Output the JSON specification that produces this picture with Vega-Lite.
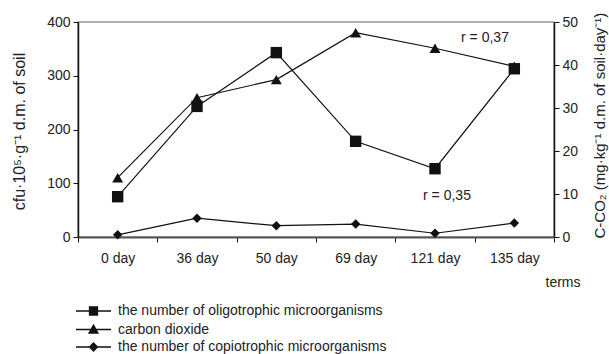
{
  "$schema": "https://vega.github.io/schema/vega-lite/v6.json",
  "width": 476,
  "height": 215,
  "autosize": {"type": "none"},
  "padding": {"left": 78, "top": 22, "right": 55, "bottom": 117},
  "background": "white",
  "config": {
    "font": "Liberation Sans",
    "view": {"stroke": "#9a9a9a", "strokeWidth": 1.5},
    "axis": {
      "labelFont": "Liberation Sans",
      "titleFont": "Liberation Sans",
      "labelFontSize": 14,
      "titleFontSize": 14,
      "labelColor": "#222",
      "titleColor": "#222",
      "titleFontWeight": "normal",
      "domainColor": "#111",
      "domainWidth": 1.5,
      "tickColor": "#111",
      "tickSize": 5,
      "grid": false
    },
    "legend": {
      "labelFont": "Liberation Sans",
      "labelFontSize": 14,
      "labelColor": "#222",
      "labelLimit": 0
    }
  },
  "data": {
    "values": [
      {"term": "0 day", "series": "the number of oligotrophic microorganisms", "value": 75},
      {"term": "36 day", "series": "the number of oligotrophic microorganisms", "value": 243},
      {"term": "50 day", "series": "the number of oligotrophic microorganisms", "value": 343},
      {"term": "69 day", "series": "the number of oligotrophic microorganisms", "value": 178},
      {"term": "121 day", "series": "the number of oligotrophic microorganisms", "value": 127},
      {"term": "135 day", "series": "the number of oligotrophic microorganisms", "value": 313},
      {"term": "0 day", "series": "carbon dioxide", "value": 13.8},
      {"term": "36 day", "series": "carbon dioxide", "value": 32.4},
      {"term": "50 day", "series": "carbon dioxide", "value": 36.6},
      {"term": "69 day", "series": "carbon dioxide", "value": 47.5},
      {"term": "121 day", "series": "carbon dioxide", "value": 43.9},
      {"term": "135 day", "series": "carbon dioxide", "value": 39.7},
      {"term": "0 day", "series": "the number of copiotrophic microorganisms", "value": 4},
      {"term": "36 day", "series": "the number of copiotrophic microorganisms", "value": 35},
      {"term": "50 day", "series": "the number of copiotrophic microorganisms", "value": 21},
      {"term": "69 day", "series": "the number of copiotrophic microorganisms", "value": 24},
      {"term": "121 day", "series": "the number of copiotrophic microorganisms", "value": 7},
      {"term": "135 day", "series": "the number of copiotrophic microorganisms", "value": 26}
    ]
  },
  "encoding": {
    "x": {
      "field": "term",
      "type": "ordinal",
      "sort": ["0 day", "36 day", "50 day", "69 day", "121 day", "135 day"],
      "scale": {"type": "band", "paddingInner": 0, "paddingOuter": 0},
      "axis": {
        "title": "terms",
        "labelAngle": 0,
        "tickBand": "extent",
        "domainColor": "#555",
        "domainWidth": 2,
        "labelPadding": 9,
        "titleAlign": "right",
        "titleX": 502,
        "titleY": 38,
        "titleBaseline": "top"
      }
    }
  },
  "layer": [
    {
      "encoding": {
        "y": {
          "field": "value",
          "type": "quantitative",
          "scale": {"domain": [0, 400]},
          "axis": {
            "orient": "left",
            "values": [0, 100, 200, 300, 400],
            "title": "cfu·10⁵·g⁻¹ d.m. of soil",
            "titleFontSize": 16,
            "titleX": -59,
            "titleY": 109,
            "titleBaseline": "middle",
            "titleAngle": -90,
            "labelPadding": 3
          }
        }
      },
      "layer": [
        {
          "transform": [{"filter": "datum.series === 'the number of oligotrophic microorganisms'"}],
          "mark": {"type": "line", "color": "#111", "strokeWidth": 1.2}
        },
        {
          "transform": [{"filter": "datum.series === 'the number of oligotrophic microorganisms'"}],
          "mark": {"type": "point", "shape": "square", "filled": true, "color": "#111", "opacity": 1, "size": 130}
        },
        {
          "transform": [{"filter": "datum.series === 'the number of copiotrophic microorganisms'"}],
          "mark": {"type": "line", "color": "#111", "strokeWidth": 1.2}
        },
        {
          "transform": [{"filter": "datum.series === 'the number of copiotrophic microorganisms'"}],
          "mark": {"type": "point", "shape": "diamond", "filled": true, "color": "#111", "opacity": 1, "size": 90}
        },
        {
          "transform": [{"filter": "datum.value < 0"}],
          "mark": {"type": "point", "filled": false, "color": "#111", "strokeWidth": 1.3, "opacity": 1},
          "encoding": {
            "shape": {
              "field": "series",
              "type": "nominal",
              "scale": {
                "domain": ["the number of oligotrophic microorganisms", "carbon dioxide", "the number of copiotrophic microorganisms"],
                "range": [
                  "M-3.5,0H3.5M-0.8,-0.8H0.8V0.8H-0.8ZM-0.8,-0.6H0.8M-0.8,-0.4H0.8M-0.8,-0.2H0.8M-0.8,0.2H0.8M-0.8,0.4H0.8M-0.8,0.6H0.8",
                  "M-3.5,0H3.5M0,-0.9L0.9,0.7H-0.9ZM-0.7,0.5H0.7M-0.6,0.3H0.6M-0.5,0.1H0.5M-0.35,-0.2H0.35M-0.2,-0.5H0.2",
                  "M-3.5,0H3.5M0,-0.8L0.8,0L0,0.8L-0.8,0ZM-0.5,-0.3H0.5M-0.5,0.3H0.5M-0.25,-0.55H0.25M-0.25,0.55H0.25"
                ]
              },
              "legend": {
                "title": null,
                "orient": "none",
                "legendX": 8.5,
                "legendY": 282,
                "symbolSize": 100,
                "symbolOpacity": 1,
                "symbolStrokeColor": "#111",
                "symbolStrokeWidth": 1.3,
                "labelOffset": 17.5,
                "rowPadding": 3.5
              }
            }
          }
        },
        {
          "data": {"values": [{"term": "121 day", "value": 371, "label": "r = 0,37"}]},
          "mark": {"type": "text", "dx": 50, "fontSize": 14, "color": "#222", "font": "Liberation Sans"},
          "encoding": {"text": {"field": "label"}}
        },
        {
          "data": {"values": [{"term": "121 day", "value": 76, "label": "r = 0,35"}]},
          "mark": {"type": "text", "dx": 12, "fontSize": 14, "color": "#222", "font": "Liberation Sans"},
          "encoding": {"text": {"field": "label"}}
        }
      ]
    },
    {
      "transform": [{"filter": "datum.series === 'carbon dioxide'"}],
      "encoding": {
        "y": {
          "field": "value",
          "type": "quantitative",
          "scale": {"domain": [0, 50]},
          "axis": {
            "orient": "right",
            "values": [0, 10, 20, 30, 40, 50],
            "title": "C-CO₂ (mg·kg⁻¹ d.m. of soil·day⁻¹)",
            "titleFontSize": 15,
            "titleAngle": -90,
            "titleAlign": "left",
            "titleBaseline": "middle",
            "titleX": 45,
            "titleY": 216,
            "labelPadding": 3
          }
        }
      },
      "layer": [
        {"mark": {"type": "line", "color": "#111", "strokeWidth": 1.2}},
        {"mark": {"type": "point", "shape": "triangle-up", "filled": true, "color": "#111", "opacity": 1, "size": 120}}
      ]
    }
  ],
  "resolve": {"scale": {"y": "independent"}}
}
